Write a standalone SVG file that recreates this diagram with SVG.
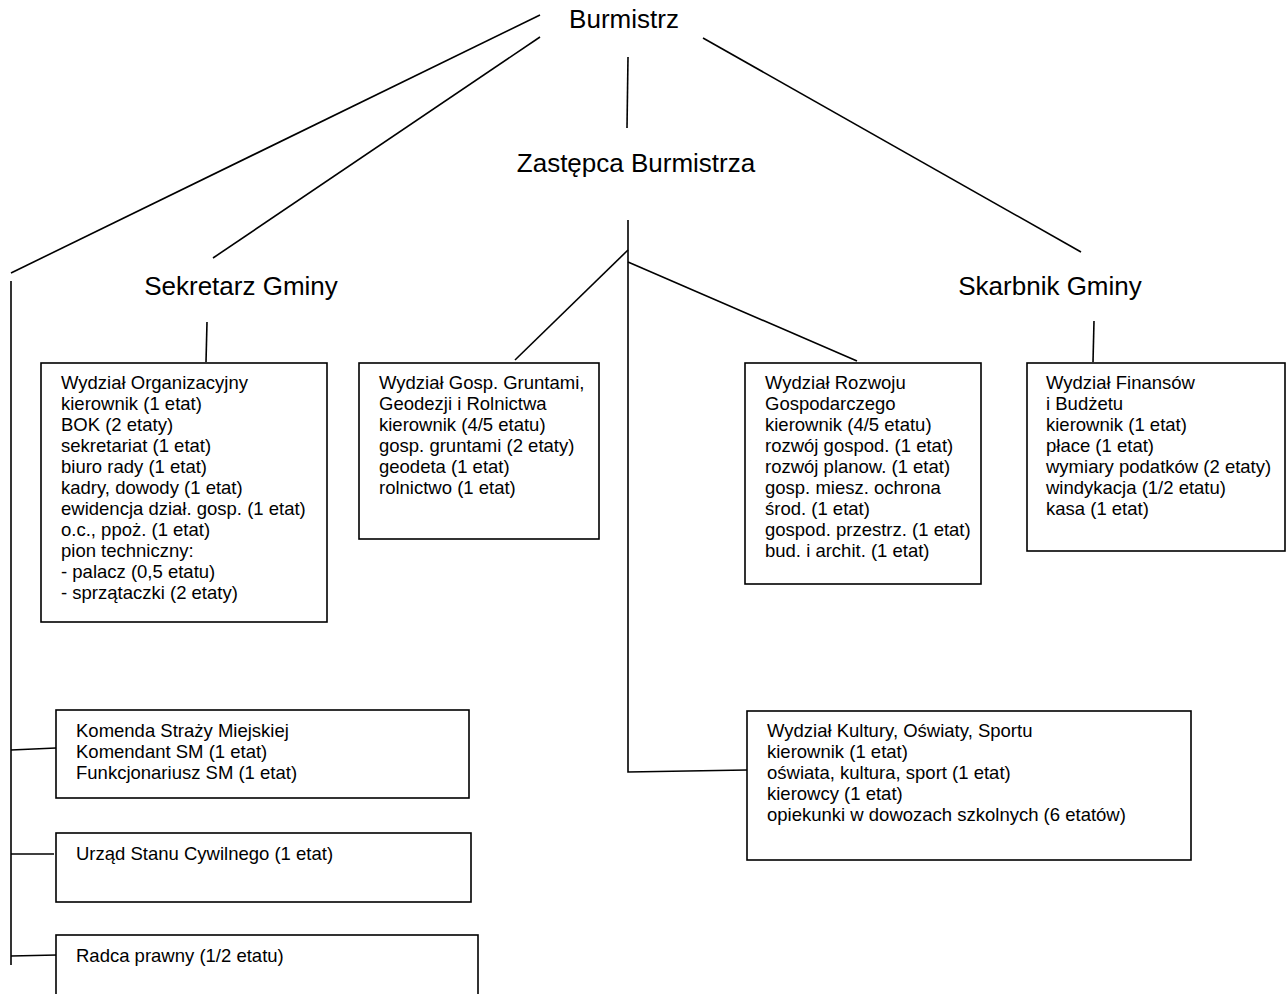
<svg xmlns="http://www.w3.org/2000/svg" width="1287" height="994" viewBox="0 0 1287 994">
<style>
.bg{fill:#ffffff}
.box{fill:#ffffff;stroke:#000000;stroke-width:1.6}
.ln{fill:none;stroke:#000000;stroke-width:1.6}
.h{font-family:"Liberation Sans",Arial,sans-serif;font-size:26px;fill:#000000;text-anchor:middle}
.t{font-family:"Liberation Sans",Arial,sans-serif;font-size:18.5px;fill:#000000}
</style>
<rect class="bg" x="0" y="0" width="1287" height="994"/>
<g id="connectors">
<line class="ln" x1="540" y1="15" x2="11" y2="273"/>
<line class="ln" x1="540" y1="37" x2="213" y2="258"/>
<line class="ln" x1="628" y1="57" x2="627" y2="128"/>
<line class="ln" x1="703" y1="38" x2="1081" y2="252"/>
<line class="ln" x1="11" y1="281" x2="11" y2="965"/>
<line class="ln" x1="207" y1="322" x2="206" y2="362"/>
<polyline class="ln" points="628,220 628,772 747,770"/>
<line class="ln" x1="628" y1="250" x2="515" y2="360"/>
<line class="ln" x1="628" y1="262" x2="857" y2="361"/>
<line class="ln" x1="1094" y1="321" x2="1093" y2="362"/>
<line class="ln" x1="11" y1="750" x2="56" y2="748"/>
<line class="ln" x1="11" y1="854" x2="54" y2="854"/>
<line class="ln" x1="11" y1="956" x2="57" y2="955"/>
</g>
<g id="burmistrz"><text class="h" x="624" y="28">Burmistrz</text></g>
<g id="zastepca"><text class="h" x="636" y="172">Zastępca Burmistrza</text></g>
<g id="sekretarz"><text class="h" x="241" y="295">Sekretarz Gminy</text></g>
<g id="skarbnik"><text class="h" x="1050" y="295">Skarbnik Gminy</text></g>
<g id="wydzial-organizacyjny">
<rect class="box" x="41" y="363" width="286" height="259"/>
<text class="t" x="61" y="389">Wydział Organizacyjny</text>
<text class="t" x="61" y="410">kierownik (1 etat)</text>
<text class="t" x="61" y="431">BOK (2 etaty)</text>
<text class="t" x="61" y="452">sekretariat (1 etat)</text>
<text class="t" x="61" y="473">biuro rady (1 etat)</text>
<text class="t" x="61" y="494">kadry, dowody (1 etat)</text>
<text class="t" x="61" y="515">ewidencja dział. gosp. (1 etat)</text>
<text class="t" x="61" y="536">o.c., ppoż. (1 etat)</text>
<text class="t" x="61" y="557">pion techniczny:</text>
<text class="t" x="61" y="578">- palacz (0,5 etatu)</text>
<text class="t" x="61" y="599">- sprzątaczki (2 etaty)</text>
</g>
<g id="wydzial-gosp-gruntami">
<rect class="box" x="359" y="363" width="240" height="176"/>
<text class="t" x="379" y="389">Wydział Gosp. Gruntami,</text>
<text class="t" x="379" y="410">Geodezji i Rolnictwa</text>
<text class="t" x="379" y="431">kierownik (4/5 etatu)</text>
<text class="t" x="379" y="452">gosp. gruntami (2 etaty)</text>
<text class="t" x="379" y="473">geodeta (1 etat)</text>
<text class="t" x="379" y="494">rolnictwo (1 etat)</text>
</g>
<g id="wydzial-rozwoju">
<rect class="box" x="745" y="363" width="236" height="221"/>
<text class="t" x="765" y="389">Wydział Rozwoju</text>
<text class="t" x="765" y="410">Gospodarczego</text>
<text class="t" x="765" y="431">kierownik (4/5 etatu)</text>
<text class="t" x="765" y="452">rozwój gospod. (1 etat)</text>
<text class="t" x="765" y="473">rozwój planow. (1 etat)</text>
<text class="t" x="765" y="494">gosp. miesz. ochrona</text>
<text class="t" x="765" y="515">środ. (1 etat)</text>
<text class="t" x="765" y="536">gospod. przestrz. (1 etat)</text>
<text class="t" x="765" y="557">bud. i archit. (1 etat)</text>
</g>
<g id="wydzial-finansow">
<rect class="box" x="1027" y="363" width="258" height="188"/>
<text class="t" x="1046" y="389">Wydział Finansów</text>
<text class="t" x="1046" y="410">i Budżetu</text>
<text class="t" x="1046" y="431">kierownik (1 etat)</text>
<text class="t" x="1046" y="452">płace (1 etat)</text>
<text class="t" x="1046" y="473">wymiary podatków (2 etaty)</text>
<text class="t" x="1046" y="494">windykacja (1/2 etatu)</text>
<text class="t" x="1046" y="515">kasa (1 etat)</text>
</g>
<g id="wydzial-kultury">
<rect class="box" x="747" y="711" width="444" height="149"/>
<text class="t" x="767" y="737">Wydział Kultury, Oświaty, Sportu</text>
<text class="t" x="767" y="758">kierownik (1 etat)</text>
<text class="t" x="767" y="779">oświata, kultura, sport (1 etat)</text>
<text class="t" x="767" y="800">kierowcy (1 etat)</text>
<text class="t" x="767" y="821">opiekunki w dowozach szkolnych (6 etatów)</text>
</g>
<g id="komenda">
<rect class="box" x="56" y="710" width="413" height="88"/>
<text class="t" x="76" y="737">Komenda Straży Miejskiej</text>
<text class="t" x="76" y="758">Komendant SM (1 etat)</text>
<text class="t" x="76" y="779">Funkcjonariusz SM (1 etat)</text>
</g>
<g id="usc">
<rect class="box" x="56" y="833" width="415" height="69"/>
<text class="t" x="76" y="860">Urząd Stanu Cywilnego (1 etat)</text>
</g>
<g id="radca">
<rect class="box" x="56" y="935" width="422" height="80"/>
<text class="t" x="76" y="962">Radca prawny (1/2 etatu)</text>
</g>
</svg>
